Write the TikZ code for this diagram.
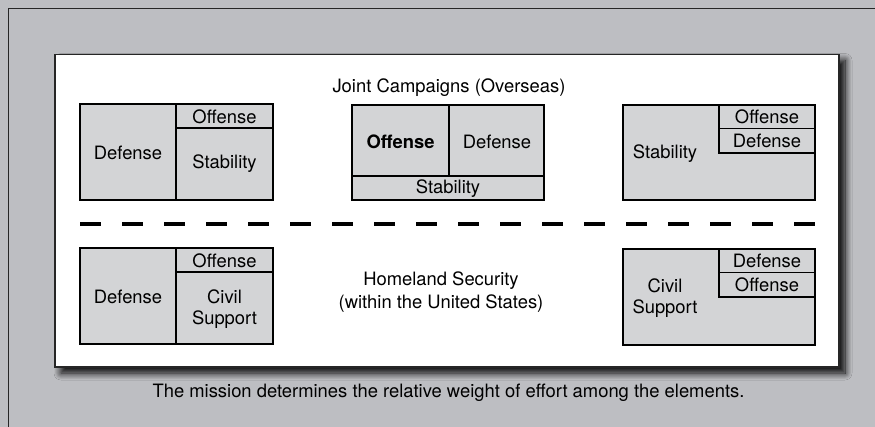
\documentclass[tikz,border=0pt]{standalone}
\usepackage{fontspec}
\setmainfont{TeX Gyre Heros}
\usetikzlibrary{shadows,shadows.blur}
\definecolor{outergray}{RGB}{189,190,194}
\definecolor{boxgray}{RGB}{211,212,214}
\begin{document}
\begin{tikzpicture}[x=1pt,y=-1pt,
  cell/.style={draw=black,line width=1.2pt,fill=boxgray},
  lbl/.style={inner sep=0pt,font=\fontsize{18.4}{22}\selectfont,text=black}]
\useasboundingbox (0,0) rectangle (875,427);
% outer gray
\fill[outergray] (0,0) rectangle (875,427);
\draw[line width=1.4pt,black!85] (8.5,432) -- (8.5,8.5) -- (880,8.5);
% white panel with shadow
\fill[white,blur shadow={shadow xshift=6pt,shadow yshift=-6pt,shadow blur radius=7pt,shadow opacity=100,shadow blur steps=12}] (55,54.5) rectangle (839,367);
\draw[line width=1.5pt,black!85] (55,54.5) rectangle (839,367);
% title
\node[lbl] (title) at (449,88) {Joint Campaigns (Overseas)};
% top-left box
\draw[cell] (80,104) rectangle (273,200);
\draw[cell] (176,104) -- (176,200);
\draw[cell] (176,128) -- (273,128);
\node[lbl] (tlDef) at (128,153) {Defense};
\node[lbl] (tlOff) at (224.5,116.5) {Offense};
\node[lbl] (tlSta) at (224.5,164) {Stability};
% middle box
\draw[cell] (352,105) rectangle (544,200);
\draw[cell] (449,105) -- (449,176);
\draw[cell] (352,176) -- (544,176);
\node[lbl,font=\fontsize{18.4}{22}\selectfont\bfseries] (mOff) at (400.5,142) {Offense};
\node[lbl] (mDef) at (497,142) {Defense};
\node[lbl] (mSta) at (448,189) {Stability};
% top-right box
\draw[cell] (623,105) rectangle (815,200);
\draw[cell] (719,105) rectangle (815,153);
\draw[cell] (719,128.5) -- (815,128.5);
\node[lbl] (trSta) at (665,154) {Stability};
\node[lbl] (trOff) at (767,117) {Offense};
\node[lbl] (trDef) at (767,141) {Defense};
% dashed divider
\coordinate (dL) at (80,224);
\coordinate (dR) at (815,224);
\draw[line width=4.5pt,dash pattern=on 20.5pt off 21.5pt] (dL) -- (dR);
% bottom-left box
\draw[cell] (80,248) rectangle (273,344);
\draw[cell] (176,248) -- (176,344);
\draw[cell] (176,272) -- (273,272);
\node[lbl] (blDef) at (128,297) {Defense};
\node[lbl] (blOff) at (224.5,260.5) {Offense};
\node[lbl,align=center,font=\fontsize{18.4}{21.5}\selectfont] (blCiv) at (224.5,309) {Civil\\Support};
% homeland text
\node[lbl,align=center,font=\fontsize{18.4}{23}\selectfont] (home) at (441,292) {Homeland Security\\(within the United States)};
% bottom-right box
\draw[cell] (623,249) rectangle (815,345);
\draw[cell] (719,249) rectangle (815,297);
\draw[cell] (719,272.5) -- (815,272.5);
\node[lbl,align=center,font=\fontsize{18.4}{21.5}\selectfont] (brCiv) at (665,298) {Civil\\Support};
\node[lbl] (brDef) at (767,261) {Defense};
\node[lbl] (brOff) at (767,285) {Offense};
% caption
\node[lbl] (cap) at (448.5,393) {The mission determines the relative weight of effort among the elements.};
\end{tikzpicture}
\end{document}
